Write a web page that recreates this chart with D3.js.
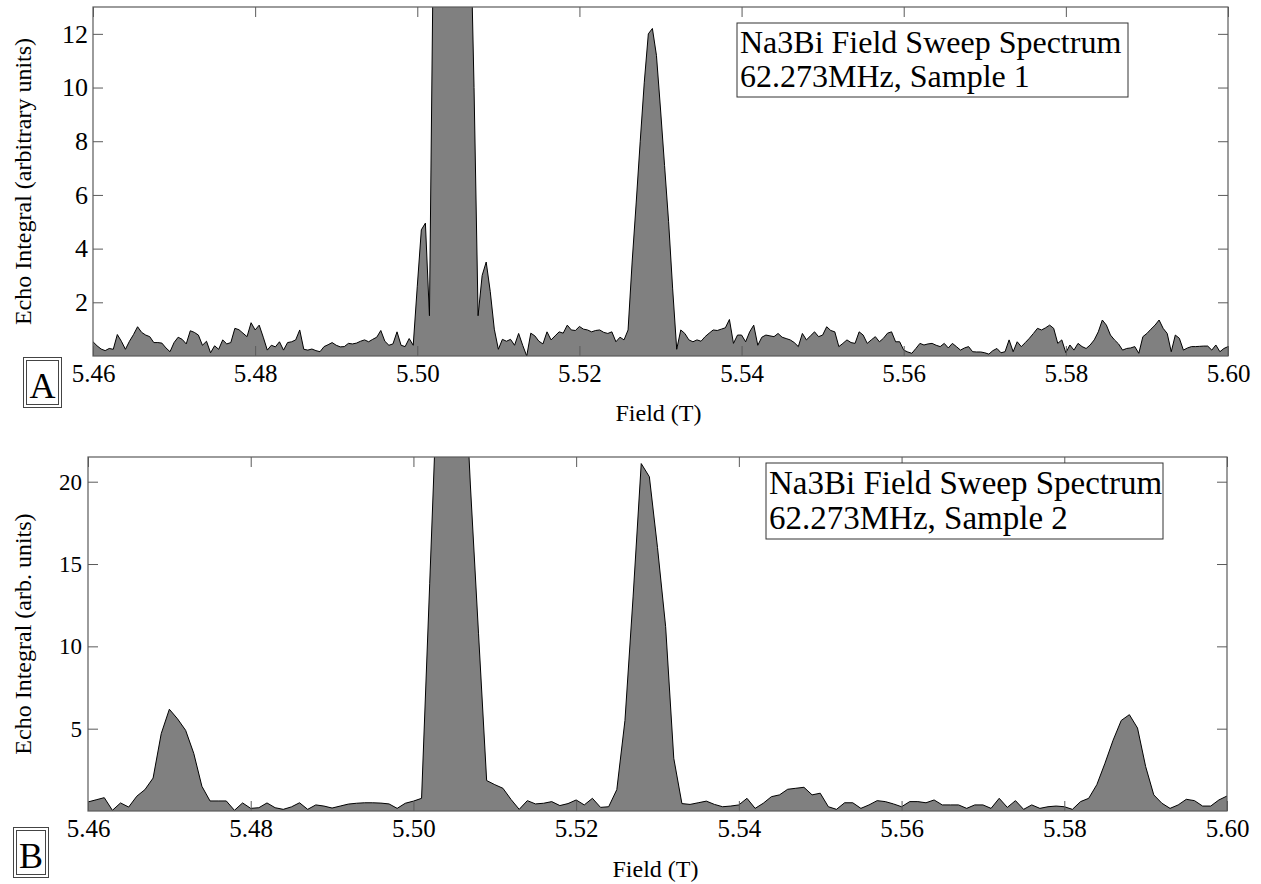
<!DOCTYPE html>
<html>
<head>
<meta charset="utf-8">
<script src="https://cdn.jsdelivr.net/npm/d3@7"></script>
<style>
  html, body { margin: 0; padding: 0; background: #fff; }
  svg { display: block; }
  text { font-family: "Liberation Serif", "Times New Roman", "DejaVu Serif", serif; fill: #000; }
</style>
</head>
<body>
<svg id="chart" width="1261" height="884"></svg>
<script>
// ---------- data ----------
const fieldStart = 5.46;
const topFieldStep = 0.0005;     // Sample 1 sampling step (T)
const bottomFieldStep = 0.001;   // Sample 2 sampling step (T)

const xTickValues = [5.46, 5.48, 5.50, 5.52, 5.54, 5.56, 5.58, 5.60];
const topYTickValues = [2, 4, 6, 8, 10, 12];
const bottomYTickValues = [5, 10, 15, 20];

// Echo integral, Sample 1 (one value per field step)
const topValues = [
  0.53,0.38,0.26,0.2,0.28,0.25,0.8,0.55,0.25,0.55,
  0.8,1.09,0.88,0.78,0.72,0.5,0.5,0.48,0.3,0.16,
  0.5,0.7,0.62,0.45,0.94,0.88,0.78,0.4,0.55,0.12,
  0.38,0.25,0.6,0.45,0.5,1.03,0.98,0.85,0.72,1.24,
  0.97,1.15,0.7,0.22,0.4,0.34,0.53,0.22,0.5,0.53,
  0.6,0.97,0.25,0.22,0.26,0.2,0.16,0.35,0.42,0.5,
  0.4,0.34,0.35,0.47,0.45,0.48,0.55,0.6,0.53,0.62,
  0.7,0.95,0.55,0.4,0.45,0.9,0.4,0.35,0.65,0.4,
  2.6,4.7,4.95,1.5,16,30,38,42,44,42,
  38,32,24,17,10,1.5,3.0,3.5,2.4,1.0,
  0.25,0.62,0.55,0.62,0.4,0.84,0.4,0.0,0.85,0.75,
  0.55,0.45,0.9,0.6,0.75,0.9,0.85,1.15,0.97,0.95,
  1.1,1.0,0.97,0.9,0.95,0.97,0.88,0.84,0.9,0.53,
  0.7,0.6,0.97,3.5,5.7,8.0,10.2,12.0,12.2,11.2,
  9.2,7.1,5.0,2.5,0.25,0.97,0.84,0.6,0.53,0.6,
  0.55,0.72,0.85,0.97,0.95,1.0,1.05,1.36,0.47,0.78,
  0.78,0.53,0.9,1.15,0.4,0.7,0.78,0.75,0.72,0.84,
  0.7,0.65,0.6,0.5,0.35,0.84,0.6,0.75,0.9,0.72,
  0.78,1.09,0.95,0.9,0.35,0.47,0.6,0.5,0.47,0.9,
  0.78,0.47,0.6,0.72,0.53,0.66,0.85,0.9,0.53,0.53,
  0.22,0.15,0.1,0.28,0.47,0.41,0.45,0.47,0.4,0.35,
  0.47,0.3,0.47,0.35,0.22,0.3,0.35,0.16,0.15,0.15,
  0.12,0.07,0.2,0.28,0.12,0.16,0.6,0.16,0.53,0.35,
  0.5,0.66,0.84,1.03,0.97,1.05,1.15,1.03,0.47,0.6,
  0.12,0.41,0.22,0.47,0.35,0.28,0.41,0.6,0.9,1.34,
  1.15,0.78,0.6,0.45,0.22,0.28,0.3,0.35,0.1,0.72,
  0.84,1.0,1.15,1.34,1.03,0.84,0.16,0.78,0.66,0.22,
  0.3,0.35,0.35,0.36,0.37,0.37,0.22,0.41,0.16,0.28,
  0.35
];

// Echo integral, Sample 2 (one value per field step)
const bottomValues = [
  0.55,0.68,0.81,0.04,0.49,0.24,0.9,1.3,2.0,4.7,
  6.18,5.6,4.9,3.5,1.5,0.61,0.61,0.61,0.04,0.49,
  0.16,0.2,0.49,0.2,0.1,0.25,0.5,0.1,0.37,0.3,
  0.18,0.3,0.42,0.47,0.5,0.5,0.48,0.43,0.16,0.47,
  0.6,0.77,13.8,27,32,33,30,19.8,10.8,1.85,
  1.6,1.38,0.7,0.1,0.63,0.43,0.47,0.57,0.33,0.45,
  0.67,0.37,0.77,0.22,0.26,1.3,5.5,13.0,21.1,20.3,
  16.0,11.2,3.2,0.45,0.4,0.5,0.6,0.4,0.26,0.3,
  0.37,0.77,0.16,0.47,0.87,0.98,1.32,1.38,1.44,0.98,
  1.08,0.26,0.1,0.5,0.5,0.16,0.37,0.63,0.57,0.43,
  0.26,0.57,0.57,0.5,0.67,0.37,0.37,0.37,0.16,0.37,
  0.37,0.16,0.77,0.22,0.63,0.1,0.37,0.16,0.26,0.3,
  0.26,0.1,0.57,0.77,1.6,2.9,4.3,5.5,5.85,5.04,
  2.7,0.98,0.47,0.16,0.37,0.71,0.63,0.3,0.3,0.67,
  0.91
];

const panels = [
  {
    id: "A", values: topValues, step: topFieldStep, yMax: 13, yTicks: topYTickValues,
    left: 93, right: 1228, top: 7, bottom: 356,
    yLabel: "Echo Integral (arbitrary units)", yLabelX: 23,
    title: ["Na3Bi Field Sweep Spectrum", "62.273MHz, Sample 1"],
    titleBox: {x: 737, y: 23, w: 391, h: 74}, titleSize: 32, titleBase: [53, 87],
    tickFontY: 26, tickPadY: 5, tickFontX: 25,
    xLabelY: 421,
    letterBox: {x: 23, y: 357, w: 38, h: 50}
  },
  {
    id: "B", values: bottomValues, step: bottomFieldStep, yMax: 21.5, yTicks: bottomYTickValues,
    left: 88, right: 1227, top: 457, bottom: 811,
    yLabel: "Echo Integral (arb. units)", yLabelX: 23,
    title: ["Na3Bi Field Sweep Spectrum", "62.273MHz, Sample 2"],
    titleBox: {x: 766, y: 463, w: 397, h: 76}, titleSize: 33, titleBase: [494, 529],
    tickFontY: 23, tickPadY: 6, tickFontX: 25,
    xLabelY: 877,
    letterBox: {x: 13, y: 827, w: 35, h: 50}
  }
];

const svg = d3.select("#chart");
svg.append("rect").attr("width", 1261).attr("height", 884).attr("fill", "#fff");

const frameColor = "#5a5a5a";

panels.forEach((p, pi) => {
  const data = p.values.map((v, i) => ({f: fieldStart + i * p.step, v}));
  const x = d3.scaleLinear().domain([5.46, 5.60]).range([p.left, p.right]);
  const y = d3.scaleLinear().domain([0, p.yMax]).range([p.bottom, p.top]);

  const clipId = "clip" + pi;
  svg.append("clipPath").attr("id", clipId)
    .append("rect")
    .attr("x", p.left).attr("y", p.top)
    .attr("width", p.right - p.left).attr("height", p.bottom - p.top);

  const g = svg.append("g").attr("clip-path", `url(#${clipId})`);
  const area = d3.area().x(d => x(d.f)).y0(y(0)).y1(d => y(d.v));
  const line = d3.line().x(d => x(d.f)).y(d => y(d.v));
  g.append("path").datum(data).attr("d", area).attr("fill", "#808080").attr("stroke", "none");
  g.append("path").datum(data).attr("d", line).attr("fill", "none")
    .attr("stroke", "#000").attr("stroke-width", 1).attr("stroke-linejoin", "round");

  // axes (ticks point inward)
  const fmt = d3.format(".2f");
  const xAxis = svg.append("g").attr("transform", `translate(0,${p.bottom})`)
    .call(d3.axisBottom(x).tickValues(xTickValues).tickFormat(fmt).tickSizeInner(-10).tickSizeOuter(0).tickPadding(8));
  xAxis.selectAll("text").style("font-size", p.tickFontX + "px");

  const xTop = svg.append("g").attr("transform", `translate(0,${p.top})`)
    .call(d3.axisTop(x).tickValues(xTickValues).tickFormat("").tickSizeInner(-10).tickSizeOuter(0));

  const yAxis = svg.append("g").attr("transform", `translate(${p.left},0)`)
    .call(d3.axisLeft(y).tickValues(p.yTicks).tickFormat(d3.format("d")).tickSizeInner(-10).tickSizeOuter(0).tickPadding(p.tickPadY));
  yAxis.selectAll("text").style("font-size", p.tickFontY + "px");

  const yRight = svg.append("g").attr("transform", `translate(${p.right},0)`)
    .call(d3.axisRight(y).tickValues(p.yTicks).tickFormat("").tickSizeInner(-10).tickSizeOuter(0));

  [xAxis, xTop, yAxis, yRight].forEach(a => {
    a.select(".domain").remove();
    a.selectAll("line").attr("stroke", frameColor).attr("stroke-width", 1);
    a.selectAll("text").attr("font-family", null).attr("fill", "#000");
  });

  // frame
  svg.append("rect")
    .attr("x", p.left).attr("y", p.top)
    .attr("width", p.right - p.left).attr("height", p.bottom - p.top)
    .attr("fill", "none").attr("stroke", frameColor).attr("stroke-width", 1.2);

  // axis titles
  svg.append("text")
    .attr("x", (p.left + p.right) / 2 - 2).attr("y", p.xLabelY)
    .attr("text-anchor", "middle").style("font-size", "24px")
    .text("Field (T)");

  svg.append("text")
    .attr("transform", `translate(${p.yLabelX + 8},${(p.top + p.bottom) / 2}) rotate(-90)`)
    .attr("text-anchor", "middle").style("font-size", "24px")
    .text(p.yLabel);

  // title box
  const tb = p.titleBox;
  svg.append("rect").attr("x", tb.x).attr("y", tb.y).attr("width", tb.w).attr("height", tb.h)
    .attr("fill", "#fff").attr("stroke", "#333").attr("stroke-width", 1);
  p.title.forEach((t, k) => {
    svg.append("text").attr("x", tb.x + 3).attr("y", p.titleBase[k])
      .style("font-size", p.titleSize + "px").text(t);
  });

  // panel letter with double border
  const lb = p.letterBox;
  svg.append("rect").attr("x", lb.x + 0.5).attr("y", lb.y + 0.5).attr("width", lb.w).attr("height", lb.h)
    .attr("fill", "#fff").attr("stroke", "#444").attr("stroke-width", 1);
  svg.append("rect").attr("x", lb.x + 3.5).attr("y", lb.y + 3.5).attr("width", lb.w - 6).attr("height", lb.h - 6)
    .attr("fill", "none").attr("stroke", "#444").attr("stroke-width", 1);
  svg.append("text").attr("x", lb.x + lb.w / 2 + 0.5).attr("y", lb.y + lb.h - 9)
    .attr("text-anchor", "middle").style("font-size", "36px").text(p.id);
});
</script>
</body>
</html>
